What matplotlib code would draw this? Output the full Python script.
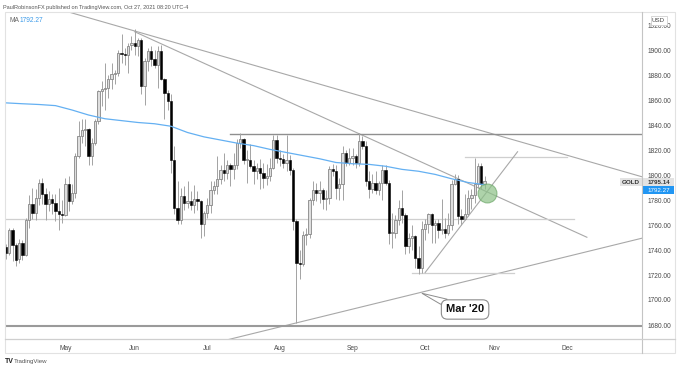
import numpy as np
import pandas as pd
import matplotlib
matplotlib.use('Agg')
import matplotlib.pyplot as plt
from matplotlib.patches import Rectangle, Polygon
from matplotlib.lines import Line2D

plt.rcParams['font.family'] = ['Liberation Sans', 'DejaVu Sans']

# ---------------- data ----------------
symbol = 'GOLD'
first_day = '2021-04-07'
header = 'PaulRobinsonFX published on TradingView.com, Oct 27, 2021 08:20 UTC-4'

opens = [1742.7, 1738, 1756, 1744, 1733, 1746, 1736, 1764, 1777, 1770,
         1782, 1794, 1785, 1777, 1781, 1778, 1771, 1769, 1768, 1793,
         1779, 1786, 1815, 1831, 1836, 1837, 1815, 1826, 1843, 1867,
         1869, 1870, 1877, 1881, 1882, 1898, 1897, 1896, 1904, 1906,
         1903, 1908, 1871, 1891, 1899, 1893, 1888, 1899, 1877, 1866,
         1859, 1812, 1774, 1764, 1783, 1778, 1779, 1776, 1781, 1779,
         1761, 1770, 1776, 1788, 1791, 1797, 1804, 1802, 1808, 1805,
         1808, 1826, 1829, 1812, 1812, 1807, 1803, 1806, 1802, 1798,
         1799, 1806, 1828, 1814, 1813, 1810, 1812, 1804, 1763, 1730,
         1729, 1752, 1753, 1780, 1788, 1786, 1788, 1781, 1782, 1805,
         1803, 1790, 1793, 1818, 1810, 1814, 1815, 1810, 1827, 1823,
         1795, 1789, 1794, 1788, 1794, 1804, 1794, 1754, 1754, 1764,
         1774, 1768, 1743, 1750, 1751, 1734, 1726, 1757, 1761, 1769,
         1760, 1762, 1756, 1757, 1754, 1760, 1793, 1797, 1767, 1765,
         1769, 1782, 1784, 1793, 1807, 1793]
highs = [1745, 1758, 1758, 1746, 1749, 1748, 1766, 1784, 1790, 1789,
         1797, 1798, 1790, 1787, 1785, 1785, 1790, 1780, 1798, 1799,
         1793, 1818, 1843, 1845, 1845, 1838, 1830, 1845, 1868, 1875,
         1890, 1880, 1890, 1884, 1900, 1913, 1902, 1906, 1911, 1917,
         1910, 1910, 1894, 1902, 1903, 1900, 1903, 1904, 1878, 1868,
         1865, 1823, 1795, 1790, 1791, 1795, 1787, 1792, 1787, 1780,
         1771, 1782, 1795, 1795, 1815, 1808, 1818, 1812, 1810, 1818,
         1829, 1834, 1830, 1820, 1825, 1812, 1810, 1813, 1810, 1809,
         1814, 1832, 1832, 1820, 1817, 1832, 1816, 1806, 1765, 1740,
         1755, 1758, 1782, 1795, 1794, 1795, 1790, 1788, 1807, 1809,
         1808, 1798, 1823, 1820, 1822, 1822, 1817, 1834, 1831, 1827,
         1803, 1801, 1803, 1795, 1808, 1808, 1796, 1770, 1768, 1780,
         1788, 1770, 1754, 1760, 1752, 1743, 1763, 1765, 1770, 1770,
         1764, 1765, 1781, 1766, 1770, 1796, 1801, 1800, 1773, 1785,
         1788, 1789, 1814, 1810, 1810, 1799]
lows = [1733, 1736, 1731, 1727, 1730, 1732, 1735, 1758, 1765, 1764,
        1776, 1777, 1764, 1771, 1769, 1763, 1756, 1762, 1767, 1771,
        1777, 1782, 1814, 1826, 1823, 1808, 1808, 1824, 1841, 1855,
        1852, 1862, 1869, 1873, 1879, 1890, 1888, 1882, 1900, 1896,
        1895, 1865, 1856, 1883, 1887, 1886, 1870, 1876, 1845, 1852,
        1802, 1769, 1761, 1761, 1772, 1774, 1772, 1770, 1772, 1750,
        1751, 1766, 1770, 1785, 1785, 1793, 1795, 1797, 1791, 1797,
        1805, 1822, 1809, 1794, 1806, 1793, 1797, 1789, 1790, 1792,
        1795, 1805, 1810, 1807, 1806, 1803, 1800, 1756, 1682, 1717,
        1727, 1744, 1750, 1776, 1779, 1778, 1773, 1772, 1777, 1799,
        1781, 1780, 1780, 1807, 1808, 1808, 1806, 1807, 1821, 1791,
        1782, 1786, 1785, 1784, 1780, 1792, 1745, 1742, 1750, 1760,
        1762, 1737, 1738, 1740, 1726, 1721, 1722, 1748, 1754, 1746,
        1746, 1750, 1753, 1750, 1752, 1756, 1792, 1761, 1760, 1764,
        1767, 1773, 1778, 1790, 1789, 1789]
closes = [1738, 1756, 1744, 1732, 1746, 1736, 1764, 1777, 1770, 1782,
          1794, 1785, 1777, 1781, 1778, 1771, 1769, 1768, 1793, 1779,
          1786, 1815, 1831, 1836, 1837, 1815, 1826, 1843, 1867, 1869,
          1870, 1877, 1881, 1882, 1898, 1897, 1896, 1903, 1906, 1903,
          1908, 1871, 1891, 1899, 1893, 1888, 1899, 1877, 1866, 1859,
          1812, 1774, 1764, 1783, 1778, 1779, 1776, 1781, 1779, 1761,
          1770, 1776, 1788, 1791, 1797, 1804, 1802, 1808, 1805, 1808,
          1826, 1829, 1812, 1812, 1807, 1803, 1806, 1802, 1798, 1799,
          1806, 1828, 1814, 1813, 1810, 1812, 1804, 1763, 1730, 1729,
          1752, 1753, 1780, 1788, 1786, 1788, 1781, 1782, 1805, 1803,
          1790, 1793, 1818, 1810, 1814, 1815, 1810, 1827, 1823, 1795,
          1789, 1794, 1788, 1794, 1804, 1794, 1754, 1754, 1764, 1774,
          1768, 1743, 1750, 1751, 1734, 1726, 1757, 1761, 1769, 1760,
          1762, 1756, 1757, 1754, 1760, 1793, 1797, 1767, 1765, 1769,
          1782, 1784, 1793, 1807, 1793, 1795.14]

# moving average sampled every 5 bars (bar number from first_day)
ma_bars = list(range(0, 146, 5))
ma_values = [1857.7, 1857.0, 1856.4, 1855.5, 1852.0, 1848.0, 1845.0, 1843.5,
             1842.0, 1841.0, 1839.0, 1834.0, 1830.5, 1828.0, 1825.5, 1823.5,
             1820.5, 1818.0, 1815.5, 1813.0, 1810.0, 1809.0, 1808.5, 1807.0,
             1804.5, 1803.0, 1800.5, 1797.0, 1794.0, 1792.27]

month_labels = ['May', 'Jun', 'Jul', 'Aug', 'Sep', 'Oct', 'Nov', 'Dec']
price_ticks = [1680, 1700, 1720, 1740, 1760, 1780, 1800, 1820, 1840, 1860, 1880, 1900, 1920]

# drawings (date, price)
upper_trend = [('2021-06-01', 1915.2), ('2021-12-31', 1799.1)]      # extended
mid_trend = [('2021-06-01', 1914.6), ('2021-12-09', 1750.2)]        # segment
rising_trend = [('2021-08-09', 1681.7), ('2021-12-31', 1749.0)]     # extended
short_trend = [('2021-10-01', 1722.0), ('2021-11-10', 1818.6)]      # segment
resistance = (1832.8, '2021-07-12', None)
support = (1764.6, None, '2021-12-03')
base_line = (1679.5, None, None)
low_line = (1722.0, '2021-09-27', '2021-11-09')
high_line = (1814.6, '2021-10-19', '2021-12-01')
circle_at = ('2021-10-27', 1785.6)
callout_text = "Mar '20"
callout_at = ('2021-10-19', 1692.4)
callout_tip = ('2021-09-30', 1705.4)

# ---------------- figure ----------------
W, H = 680, 370
fig = plt.figure(figsize=(W / 100, H / 100), dpi=100)
fig.patch.set_facecolor('white')

def fx(x):
    return x / W

def fy(y):
    return 1 - y / H

ax = fig.add_axes([fx(5), fy(339), fx(642) - fx(5), fy(12) - fy(339)])
ax.set_facecolor('white')

dates = pd.bdate_range(first_day, '2022-01-14')
def bi(d):
    return dates.get_loc(pd.Timestamp(d))

n = len(closes)
xs = np.arange(n)
o = np.array(opens); h = np.array(highs); l = np.array(lows); c = np.array(closes)
up = c >= o

ax.vlines(xs, l, h, color='#a3a3a3', lw=0.7, zorder=2)
bottoms = np.minimum(o, c)
heights = np.maximum(np.abs(c - o), 0.6)
ax.bar(xs[up], heights[up], bottom=bottoms[up], width=0.7,
       color='#dedede', edgecolor='#878787', linewidth=0.6, zorder=3)
ax.bar(xs[~up], heights[~up], bottom=bottoms[~up], width=0.7,
       color='#000000', edgecolor='#000000', linewidth=0.4, zorder=3)

# moving average
ax.plot(ma_bars, ma_values, color='#64b0f2', lw=0.9, zorder=4)

XL, XR = -0.3, 192.7
lc = '#a8a8a8'

def extended(pts, **kw):
    (d1, p1), (d2, p2) = pts
    x1, x2 = bi(d1), bi(d2)
    s = (p2 - p1) / (x2 - x1)
    xx = np.array([-20, 220])
    ax.plot(xx, p1 + (xx - x1) * s, **kw)

def segment(pts, **kw):
    (d1, p1), (d2, p2) = pts
    ax.plot([bi(d1), bi(d2)], [p1, p2], **kw)

def hline(spec, **kw):
    p, d1, d2 = spec
    x1 = bi(d1) if d1 else -20
    x2 = bi(d2) if d2 else 220
    ax.plot([x1, x2], [p, p], **kw)

extended(upper_trend, color=lc, lw=0.8, zorder=1)
segment(mid_trend, color=lc, lw=0.8, zorder=1)
extended(rising_trend, color=lc, lw=0.8, zorder=1)
segment(short_trend, color=lc, lw=0.8, zorder=5)
hline(resistance, color='#8f8f8f', lw=1.0, zorder=1)
hline(support, color='#cfcfcf', lw=0.9, zorder=1)
hline(base_line, color='#9a9a9a', lw=1.5, zorder=1)
hline(low_line, color='#cfcfcf', lw=0.9, zorder=1)
hline(high_line, color='#cfcfcf', lw=0.9, zorder=1)

cx = bi(circle_at[0]) + 0.7
ax.scatter([cx], [circle_at[1]], s=185, facecolor='#8cc187', edgecolor='#6ea86a',
           alpha=0.7, lw=0.8, zorder=6)

# callout
tx, ty = bi(callout_tip[0]), callout_tip[1]
bx, by = bi(callout_at[0]) + 0.1, callout_at[1]
ax.add_patch(Polygon([[tx, ty], [bx - 7.4, by + 4.2], [bx - 5.4, by + 8.2]],
                     closed=True, facecolor='white', edgecolor='#8c8c8c', lw=0.7, zorder=7))
ax.text(bx, by, callout_text, ha='center', va='center', fontsize=8, fontweight='bold',
        color='#111111', zorder=8,
        bbox=dict(boxstyle='round,pad=0.42,rounding_size=0.55', fc='white', ec='#8c8c8c', lw=0.8))

ax.set_xlim(XL, XR)
ax.set_ylim(1668.8, 1930.4)

# axes ticks
month_pos = []
for m in range(5, 13):
    month_pos.append(int(np.searchsorted(dates, pd.Timestamp(2021, m, 1))))
ax.set_xticks(month_pos)
ax.set_xticklabels(month_labels)
ax.yaxis.tick_right()
ax.set_yticks(price_ticks)
ax.set_yticklabels([f'{v:.2f}' for v in price_ticks])
ax.tick_params(axis='both', length=0, labelsize=4.8, labelcolor='#4a4a4a')
ax.tick_params(axis='y', pad=4.0)
ax.tick_params(axis='x', pad=4.0)
for s in ax.spines.values():
    s.set_visible(False)

# panel frame
fig.add_artist(Rectangle((fx(5), fy(353)), fx(675) - fx(5), fy(12) - fy(353),
                         transform=fig.transFigure, fill=False, ec='#e2e2e2', lw=0.8))
fig.add_artist(Line2D([fx(642), fx(642)], [fy(12), fy(353)], transform=fig.transFigure,
                      color='#c4c4c4', lw=0.8))
fig.add_artist(Line2D([fx(5), fx(675)], [fy(339), fy(339)], transform=fig.transFigure,
                      color='#cfcfcf', lw=0.9))

# header texts
fig.text(fx(3), fy(7), header, fontsize=4.0, color='#555555', va='center', ha='left')
fig.text(fx(9.5), fy(20), 'MA', fontsize=4.8, color='#666666', va='center', ha='left')
fig.text(fx(20), fy(20), f'{ma_values[-1]:.2f}', fontsize=4.8, color='#3d9be9', va='center', ha='left')

# USD box
fig.add_artist(Rectangle((fx(650.5), fy(24.5)), fx(666.5) - fx(650.5), fy(15.5) - fy(24.5),
                         transform=fig.transFigure, fc='white', ec='#d0d0d0', lw=0.6, zorder=3))
fig.text(fx(658.5), fy(20), 'USD', fontsize=4.4, color='#444444', va='center', ha='center', zorder=4)

# price labels
last = closes[-1]
fig.add_artist(Rectangle((fx(620), fy(185.5)), fx(641.5) - fx(620), fy(178) - fy(185.5),
                         transform=fig.transFigure, fc='#e3e3e3', ec='none'))
fig.text(fx(630.7), fy(182), symbol, fontsize=4.5, fontweight='bold', color='#333333',
         va='center', ha='center')
fig.add_artist(Rectangle((fx(643), fy(185.5)), fx(674) - fx(643), fy(178) - fy(185.5),
                         transform=fig.transFigure, fc='#e3e3e3', ec='none'))
fig.text(fx(658.5), fy(182), f'{last:.2f}', fontsize=4.5, fontweight='bold', color='#333333',
         va='center', ha='center')
fig.add_artist(Rectangle((fx(642), fy(193.8)), fx(674) - fx(642), fy(186.3) - fy(193.8),
                         transform=fig.transFigure, fc='#2196f3', ec='none'))
fig.text(fx(658.5), fy(190), f'{ma_values[-1]:.2f}', fontsize=4.5, color='white',
         va='center', ha='center')

# TradingView footer
fig.text(fx(5), fy(361.5), 'TV', fontsize=5, fontweight='bold', color='#222222', va='center', ha='left')
fig.text(fx(13.5), fy(361.5), 'TradingView', fontsize=4.4, color='#555555', va='center', ha='left')

fig.savefig('out.png', dpi=100)
